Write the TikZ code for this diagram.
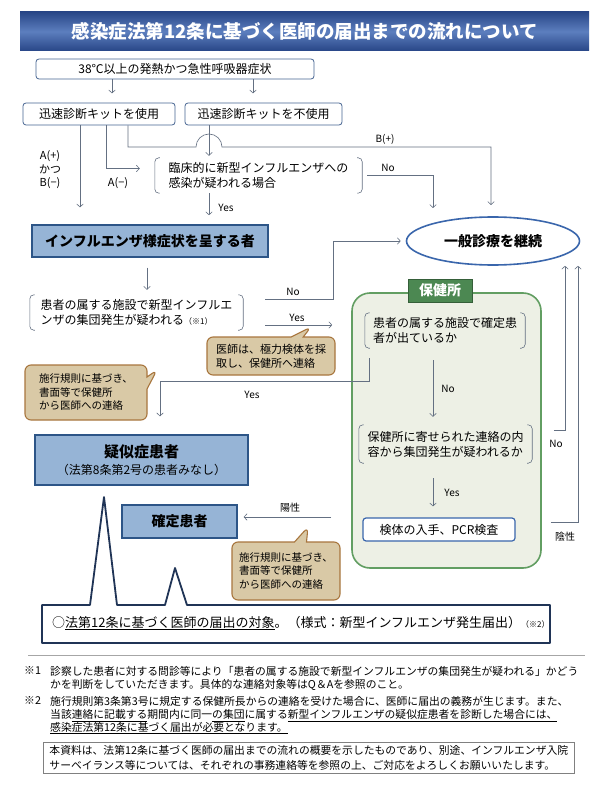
\documentclass[tikz,border=0pt]{standalone}
\usepackage{fontspec}
\setmainfont{Noto Sans CJK JP}
\usetikzlibrary{arrows.meta,shapes.geometric,shapes.callouts}

\definecolor{linegray}{RGB}{100,112,130}
\definecolor{boxedge}{RGB}{70,100,145}
\definecolor{flufill}{RGB}{150,180,214}
\definecolor{fluedge}{RGB}{45,85,135}
\definecolor{bubblefill}{RGB}{217,201,166}
\definecolor{bubbleedge}{RGB}{168,118,62}
\definecolor{hcedge}{RGB}{98,158,98}
\definecolor{hcfill}{RGB}{237,240,229}
\definecolor{tabgreen}{RGB}{76,136,82}
\definecolor{navyedge}{RGB}{32,52,86}
\definecolor{ovaledge}{RGB}{58,102,172}
\definecolor{titletop}{RGB}{40,70,135}
\definecolor{titlemid}{RGB}{92,126,190}

\newcommand{\fsz}[2]{\fontsize{#1}{#2}\selectfont}
\newcommand{\bracketsfor}[1]{%
  \draw[brk] ([xshift=5pt]#1.north west) -- (#1.north west) -- (#1.south west) -- ([xshift=5pt]#1.south west);
  \draw[brk] ([xshift=-5pt]#1.north east) -- (#1.north east) -- (#1.south east) -- ([xshift=-5pt]#1.south east);}

\tikzset{
  kitbox/.style={draw=boxedge,fill=white,rounded corners=3pt,line width=0.8pt,inner sep=0pt,font=\fsz{12}{14}},
  flubox/.style={draw=fluedge,fill=flufill,line width=1.3pt,inner sep=0pt,font=\fsz{14}{17}\bfseries},
  askbox/.style={inner sep=0pt,align=left,font=\fsz{12}{15}},
  brk/.style={draw=linegray,line width=0.6pt,rounded corners=4pt},
  bubble/.style={rectangle callout,draw=bubbleedge,fill=bubblefill,line width=1.1pt,rounded corners=6pt,inner sep=0pt,align=left,callout pointer width=12pt},
  lab/.style={inner sep=1pt,font=\fsz{10}{12}},
  flow/.style={draw=linegray,line width=0.6pt},
  arr/.style={flow,->},
  note/.style={inner sep=0pt,align=left,font=\fsz{10.8}{12.6}},
}

\begin{document}
\begin{tikzpicture}[x=1pt,y=-1pt,>={Straight Barb[length=3pt,width=6.5pt]}]
  \useasboundingbox (0,0) rectangle (600,802);
  \fill[white] (0,0) rectangle (600,802);

  % title bar
  \node[top color=titletop,bottom color=titletop,middle color=titlemid,minimum width=569pt,minimum height=39pt,inner sep=0pt,text=white,font=\fsz{18.5}{21}\bfseries] (title) at (304.5,31.5) {感染症法第12条に基づく医師の届出までの流れについて};

  % upper flow
  \node[kitbox,minimum width=278pt,minimum height=20pt] (fever) at (175,69) {38℃以上の発熱かつ急性呼吸器症状};
  \node[kitbox,minimum width=152pt,minimum height=22pt] (kituse) at (99,114) {迅速診断キットを使用};
  \node[kitbox,minimum width=157pt,minimum height=22pt] (kitnot) at (263.5,114) {迅速診断キットを不使用};
  \node[askbox,minimum width=207pt,minimum height=35pt] (clinical) at (258.5,175.5) {臨床的に新型インフルエンザへの\\感染が疑われる場合};
  \bracketsfor{clinical}
  \node[flubox,minimum width=236pt,minimum height=32pt] (flu) at (150,241) {インフルエンザ様症状を呈する者};
  \node[ellipse,draw=ovaledge,line width=1.6pt,fill=white,minimum width=173pt,minimum height=48pt,inner sep=0pt,font=\fsz{14}{17}\bfseries] (general) at (493,241) {一般診療を継続};
  \node[askbox,minimum width=213pt,minimum height=35pt] (outbreak) at (136.5,312.5) {患者の属する施設で新型インフルエ\\ンザの集団発生が疑われる{\fsz{8}{9}（※1）}};
  \bracketsfor{outbreak}

  % health centre
  \node[draw=hcedge,fill=hcfill,line width=1.6pt,rounded corners=18pt,minimum width=189pt,minimum height=275pt] (hc) at (446.5,430.5) {};
  \node[draw=tabgreen!70!black,fill=tabgreen,text=white,minimum width=64pt,minimum height=23pt,inner sep=0pt,font=\fsz{14}{16}\bfseries] (hctab) at (440,290.5) {保健所};
  \node[askbox,minimum width=160pt,minimum height=35pt] (hcask1) at (445,330.5) {患者の属する施設で確定患\\者が出ているか};
  \bracketsfor{hcask1}
  \node[askbox,minimum width=173pt,minimum height=38pt] (hcask2) at (445.5,444) {保健所に寄せられた連絡の内\\容から集団発生が疑われるか};
  \bracketsfor{hcask2}
  \node[kitbox,draw=ovaledge,line width=1.2pt,minimum width=152pt,minimum height=23pt] (pcr) at (439,529.5) {検体の入手、PCR検査};

  % patients
  \node[flubox,minimum width=213pt,minimum height=50pt,align=center] (suspect) at (141.5,460) {{\fsz{15}{18}疑似症患者}\\{\fsz{12}{16}\mdseries（法第8条第2号の患者みなし）}};
  \node[flubox,minimum width=115pt,minimum height=33pt] (confirmed) at (179.5,521.5) {確定患者};

  % callouts
  \node[bubble,minimum width=128pt,minimum height=38pt,font=\fsz{11}{14},callout absolute pointer={(311,327)}] (sample) at (271,356) {医師は、極力検体を採\\取し、保健所へ連絡};
  \node[bubble,minimum width=122pt,minimum height=55pt,font=\fsz{10.5}{13.5},callout absolute pointer={(157,370)}] (notice1) at (86,392.5) {施行規則に基づき、\\書面等で保健所\\から医師への連絡};
  \node[bubble,minimum width=108pt,minimum height=58pt,font=\fsz{10.5}{13.5},callout absolute pointer={(308,527)}] (notice2) at (286,571) {施行規則に基づき、\\書面等で保健所\\から医師への連絡};

  % report box with pointers
  \draw[navyedge,line width=1.8pt,fill=white,line join=round] (42,605) -- (90,605) -- (104,497) -- (117,605) -- (165,605) -- (175,568) -- (187,605) -- (550,605) -- (550,643) -- (42,643) -- cycle;
  \node[anchor=west,inner sep=0pt,font=\fsz{13}{15}] (target) at (52,623) {○\underline{法第12条に基づく医師の届出の対象}。（様式：新型インフルエンザ発生届出）{\fsz{8}{9}（※2）}};

  % connectors
  \draw[arr] (112,0 |- fever.south) -- ++(0,14);
  \draw[arr] (253,0 |- fever.south) -- ++(0,14);
  \draw[arr] (80,0 |- kituse.south) -- ++(0,82);
  \draw[arr] (106,0 |- kituse.south) |- ([xshift=-15pt,yshift=7pt]clinical.west);
  \draw[arr] (128,0 |- kituse.south) |- (196,147) arc[start angle=180,end angle=0,radius=13pt] -| (491,205);
  \draw[arr,shorten >=2pt] (209,0 |- kitnot.south) -- (209,0 |- clinical.north);
  \draw[arr] ([xshift=5pt]clinical.east) -| (433,208);
  \draw[arr] (209,0 |- clinical.south) -- ++(0,22);
  \draw[arr,shorten <=10pt,shorten >=5pt] (147,0 |- flu.south) -- (147,0 |- outbreak.north);
  \draw[arr] ([xshift=22pt,yshift=13pt]outbreak.east) -| (333,0 |- general.west) -- ([xshift=-5pt]general.west);
  \draw[arr] ([xshift=22pt,yshift=-12.5pt]outbreak.east) -- ++(67,0);
  \draw[arr,shorten >=18pt] ([xshift=4pt,yshift=-10pt]hcask1.south west) |- (160,381) -- (160,0 |- suspect.north);
  \draw[arr,shorten <=12pt,shorten >=8pt] (433,0 |- hcask1.south) -- (433,0 |- hcask2.north);
  \draw[arr,shorten <=15pt,shorten >=11pt] (433,0 |- hcask2.south) -- (433,0 |- pcr.north);
  \draw[arr] ([xshift=-20pt,yshift=-86.5pt]hc.west) -- ([xshift=6pt,yshift=4.5pt]confirmed.east);
  \draw[arr] ([xshift=12pt]hc.east) -| (565,0 |- general.south);
  \draw[arr] ([xshift=9pt,yshift=-91.5pt]hc.east) -| (578,0 |- general.south);

  % branch labels
  \node[lab,font=\fsz{11}{13.5},align=center] (lab-ab) at (50,170) {A(+)\\かつ\\B(−)};
  \node[lab,font=\fsz{11}{13}] (lab-am) at (118,183) {A(−)};
  \node[lab] (lab-bp) at (385,139) {B(+)};
  \node[lab] (lab-no1) at (388,168) {No};
  \node[lab] (lab-yes1) at (226,208) {Yes};
  \node[lab] (lab-no2) at (293,292) {No};
  \node[lab] (lab-yes2) at (297,318) {Yes};
  \node[lab] (lab-yes3) at (252,395) {Yes};
  \node[lab] (lab-no3) at (448,389) {No};
  \node[lab] (lab-yes4) at (452,493) {Yes};
  \node[lab] (lab-pos) at (290,508) {陽性};
  \node[lab] (lab-no4) at (556,444) {No};
  \node[lab] (lab-neg) at (565,537) {陰性};

  % footnotes
  \draw[gray!70,line width=0.8pt] (28,655) -- (585,655);
  \node[note,anchor=north west] (mark1) at (24,666.5) {※1};
  \node[note,anchor=north west] (foot1) at (50,666.5) {診察した患者に対する問診等により「患者の属する施設で新型インフルエンザの集団発生が疑われる」かどう\\かを判断をしていただきます。具体的な連絡対象等はQ＆Aを参照のこと。};
  \node[note,anchor=north west] (mark2) at (24,696.5) {※2};
  \node[note,anchor=north west] (foot2) at (50,696.5) {施行規則第3条第3号に規定する保健所長からの連絡を受けた場合に、医師に届出の義務が生じます。また、\\当該\underline{連絡に記載する}期間内に同一\underline{の集団}に属する\underline{新型インフルエンザの疑似症患者を診断した場合には、}\\\underline{感染症法第12条に基づく届出が必要となります。}};
  \node[note,draw=gray,line width=0.9pt,anchor=north west,inner xsep=6pt,inner ysep=3pt,font=\fsz{10.8}{15}] (remark) at (43,742) {本資料は、法第12条に基づく医師の届出までの流れの概要を示したものであり、別途、インフルエンザ入院\\サーベイランス等については、それぞれの事務連絡等を参照の上、ご対応をよろしくお願いいたします。};
\end{tikzpicture}
\end{document}
